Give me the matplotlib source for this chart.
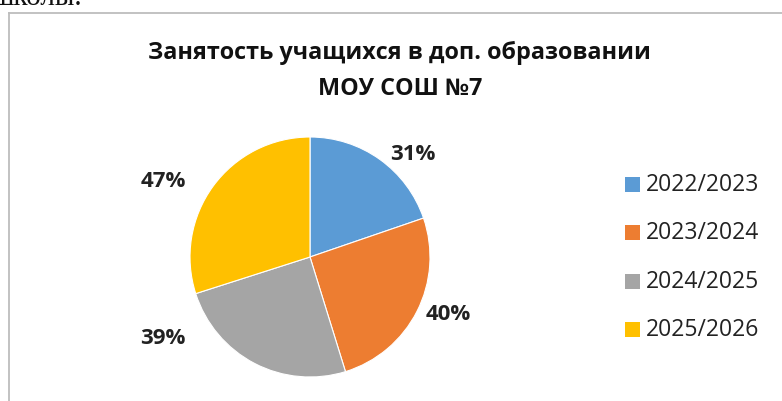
import matplotlib
matplotlib.use("Agg")
from matplotlib import pyplot as plt
from matplotlib.lines import Line2D

years = ["2022/2023", "2023/2024", "2024/2025", "2025/2026"]
values = [31, 40, 39, 47]
labels = ["31%", "40%", "39%", "47%"]
colors = ["#5b9bd5", "#ed7d31", "#a5a5a5", "#ffc000"]

W, H = 782, 401
fig = plt.figure(figsize=(W / 100, H / 100), dpi=100)
fig.patch.set_facecolor("white")

def px(x, y):
    return x / W, 1 - y / H

# frame of the embedded chart
fig.add_artist(Line2D([9 / W, 9 / W], [0, 1 - 12.5 / H], color="#bdbdbd", lw=1.3))
fig.add_artist(Line2D([9 / W, 1], [1 - 12.5 / H, 1 - 12.5 / H], color="#bdbdbd", lw=1.3))

# cut-off text of the page above
fig.text(-8 / W, 1 - 5 / H, "школы.", family="Liberation Serif", fontsize=21,
         va="baseline", ha="left", color="#111111")

fig.text(*px(399, 53), "Занятость учащихся в доп. образовании", family="Open Sans",
         fontweight="bold", fontsize=16.8, ha="center", va="center", color="#111111")
fig.text(*px(400, 89), "МОУ СОШ №7", family="Open Sans",
         fontweight="bold", fontsize=16.8, ha="center", va="center", color="#111111")

# pie: center (310, 257), radius 120 px
r = 120
ax = fig.add_axes([(310 - r) / W, 1 - (257 + r) / H, 2 * r / W, 2 * r / H])
ax.pie(values, colors=colors, startangle=90, counterclock=False,
       wedgeprops=dict(linewidth=0.8, edgecolor="white"))
ax.set_xlim(-1, 1)
ax.set_ylim(-1, 1)
ax.set_aspect("auto")

label_pos = [(413, 154), (448, 315), (163, 339), (163, 182)]
for (x, y), t in zip(label_pos, labels):
    fig.text(*px(x, y), t, family="Open Sans", fontweight="bold", fontsize=16,
             ha="center", va="center", color="#222222")

# legend
for i, (yr, c) in enumerate(zip(years, colors)):
    y = 185 + i * 48.3
    fig.add_artist(plt.Rectangle(px(625, y + 7), 15 / W, 15 / H, color=c, lw=0))
    fig.text(*px(646, y), yr, family="Open Sans", fontsize=16.5, ha="left",
             va="center", color="#222222")

fig.savefig("out.png", dpi=100)
